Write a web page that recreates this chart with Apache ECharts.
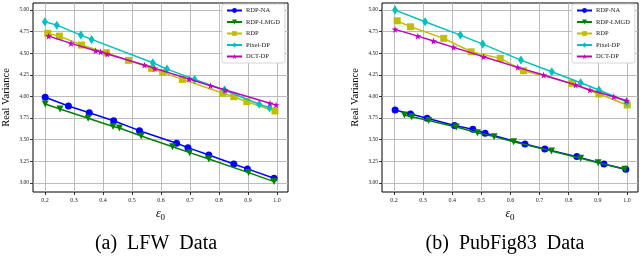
<!DOCTYPE html>
<html><head><meta charset="utf-8">
<script src="https://cdn.jsdelivr.net/npm/echarts@6/dist/echarts.min.js"></script>
<style>html,body{margin:0;padding:0;background:#fff}#c{width:640px;height:258px}</style>
</head><body><div id="c"></div>
<script>
// ---- Data ----
const seriesNames = ['RDP-NA', 'RDP-LMGD', 'RDP', 'Pixel-DP', 'DCT-DP'];
const xTicks = [0.2, 0.3, 0.4, 0.5, 0.6, 0.7, 0.8, 0.9, 1.0];
const yTicks = [3.00, 3.25, 3.50, 3.75, 4.00, 4.25, 4.50, 4.75, 5.00];
const captionParts = [['(a)', 'LFW', 'Data'], ['(b)', 'PubFig83', 'Data']];

// (a) LFW
const lfwNA_x = [0.201, 0.281, 0.353, 0.437, 0.526, 0.654, 0.693, 0.765, 0.851, 0.898, 0.990];
const lfwNA_y = [3.990, 3.889, 3.812, 3.719, 3.604, 3.458, 3.408, 3.323, 3.219, 3.162, 3.054];
const lfwLM_x = [0.201, 0.252, 0.349, 0.435, 0.457, 0.532, 0.640, 0.699, 0.765, 0.902, 0.990];
const lfwLM_y = [3.912, 3.855, 3.747, 3.652, 3.635, 3.543, 3.419, 3.350, 3.277, 3.119, 3.015];
const lfwRDP_x = [0.210, 0.250, 0.326, 0.412, 0.488, 0.568, 0.606, 0.674, 0.814, 0.851, 0.896, 0.993];
const lfwRDP_y = [4.729, 4.697, 4.594, 4.505, 4.417, 4.324, 4.278, 4.197, 4.036, 3.997, 3.939, 3.831];
const lfwPix_x = [0.200, 0.241, 0.324, 0.361, 0.572, 0.621, 0.716, 0.819, 0.939, 0.974];
const lfwPix_y = [4.863, 4.824, 4.709, 4.659, 4.389, 4.316, 4.197, 4.074, 3.909, 3.870];
const lfwDCT_x = [0.213, 0.290, 0.375, 0.392, 0.415, 0.543, 0.579, 0.697, 0.771, 0.822, 0.976, 0.997];
const lfwDCT_y = [4.697, 4.613, 4.528, 4.516, 4.490, 4.363, 4.324, 4.201, 4.124, 4.074, 3.920, 3.901];

// (b) PubFig83
const pubNA_x = [0.204, 0.257, 0.314, 0.408, 0.471, 0.513, 0.650, 0.718, 0.828, 0.921, 0.996];
const pubNA_y = [3.843, 3.797, 3.747, 3.664, 3.620, 3.574, 3.450, 3.393, 3.304, 3.219, 3.158];
const pubLM_x = [0.236, 0.261, 0.319, 0.414, 0.487, 0.544, 0.611, 0.741, 0.841, 0.901, 0.993];
const pubLM_y = [3.785, 3.766, 3.722, 3.647, 3.581, 3.535, 3.477, 3.370, 3.285, 3.234, 3.158];
const pubRDP_x = [0.211, 0.257, 0.371, 0.465, 0.565, 0.645, 0.811, 0.904, 1.001];
const pubRDP_y = [4.874, 4.805, 4.671, 4.516, 4.440, 4.297, 4.151, 4.028, 3.901];
const pubPix_x = [0.204, 0.307, 0.428, 0.505, 0.636, 0.742, 0.841, 0.904, 0.999];
const pubPix_y = [4.998, 4.863, 4.709, 4.605, 4.420, 4.285, 4.158, 4.074, 3.939];
const pubDCT_x = [0.204, 0.282, 0.336, 0.405, 0.508, 0.625, 0.714, 0.824, 0.873, 0.955, 0.999];
const pubDCT_y = [4.775, 4.697, 4.640, 4.567, 4.458, 4.336, 4.247, 4.132, 4.074, 3.997, 3.950];

// ---- Styling ----
const FONT = '"Liberation Serif", "DejaVu Serif", serif';
const colors = ['#0000ff', '#008000', '#bfbf00', '#00bfbf', '#bf00bf'];
const symbols = [
  'circle',
  'path://M0,0 L10,0 L5,9 Z',
  'rect',
  'path://M5,0 L9,7 L5,14 L1,7 Z',
  'path://M50,0 L61,35 L98,35 L68,57 L79,91 L50,70 L21,91 L32,57 L2,35 L39,35 Z'
];
const symSizes = [7, 7, 7, [6, 9], 7];

const zip = (xs, ys) => xs.map((x, i) => [x, ys[i]]);
const plots = [
  [zip(lfwNA_x, lfwNA_y), zip(lfwLM_x, lfwLM_y), zip(lfwRDP_x, lfwRDP_y), zip(lfwPix_x, lfwPix_y), zip(lfwDCT_x, lfwDCT_y)],
  [zip(pubNA_x, pubNA_y), zip(pubLM_x, pubLM_y), zip(pubRDP_x, pubRDP_y), zip(pubPix_x, pubPix_y), zip(pubDCT_x, pubDCT_y)]
];

const gridLefts = [31, 382];
const gridW = [257, 256];

const grids = gridLefts.map((l, i) => ({
  left: l, top: 3, width: gridW[i], height: 189,
  show: true, borderColor: '#000', borderWidth: 1, backgroundColor: 'transparent'
}));

const xAxes = gridLefts.map((l, i) => ({
  type: 'value', gridIndex: i, min: 0.159, max: 1.038,
  name: '{e|ε}{s|0}', nameLocation: 'middle', nameGap: 13,
  nameTextStyle: { rich: { e: { fontFamily: FONT, fontSize: 12, color: '#000', fontStyle: 'italic' }, s: { fontFamily: FONT, fontSize: 9, color: '#000', padding: [8, 0, 0, 0] } } },
  axisLine: { show: false },
  axisTick: { show: true, inside: false, length: 3, customValues: xTicks, lineStyle: { color: '#000', width: 0.8 } },
  axisLabel: { customValues: xTicks, fontFamily: FONT, fontSize: 6, color: '#222', margin: 5, formatter: v => v.toFixed(1) },
  splitLine: { show: true, lineStyle: { color: '#b4b4b4', width: 0.9 } }
}));

const yAxes = gridLefts.map((l, i) => ({
  type: 'value', gridIndex: i, min: 2.895, max: 5.08,
  name: 'Real Variance', nameLocation: 'middle', nameGap: 21, nameRotate: 90,
  nameTextStyle: { fontFamily: FONT, fontSize: 10.5, color: '#000' },
  axisLine: { show: false },
  axisTick: { show: true, inside: false, length: 3, customValues: yTicks, lineStyle: { color: '#000', width: 0.8 } },
  axisLabel: { customValues: yTicks, fontFamily: FONT, fontSize: 5.5, color: '#222', margin: 4, formatter: v => v.toFixed(2) },
  splitLine: { show: true, lineStyle: { color: '#b4b4b4', width: 0.9 } }
}));

const series = [];
plots.forEach((p, gi) => {
  p.forEach((d, si) => {
    series.push({
      name: seriesNames[si], type: 'line', xAxisIndex: gi, yAxisIndex: gi,
      data: d, symbol: symbols[si], symbolSize: symSizes[si], showSymbol: true,
      lineStyle: { color: colors[si], width: 1.5 },
      itemStyle: { color: colors[si] },
      z: 3 + si, animation: false
    });
  });
});

const legends = [222, 572].map(l => ({
  orient: 'vertical', left: l, top: 4,
  data: seriesNames,
  itemWidth: 15, itemHeight: 6, itemGap: 4.5,
  padding: [3, 5, 3, 4],
  backgroundColor: '#fff', borderColor: '#ccc', borderWidth: 0.8, borderRadius: 2,
  textStyle: { fontFamily: FONT, fontSize: 6.5, color: '#222', padding: [0, 0, 0, -1] },
  selectedMode: false
}));

const capText = parts => parts.join('{sp| }');
const capRich = { sp: { width: 10, fontSize: 20, fontFamily: FONT } };
const option = {
  animation: false,
  grid: grids, xAxis: xAxes, yAxis: yAxes, series, legend: legends,
  graphic: [
    { type: 'text', x: 156, y: 234, style: { text: capText(captionParts[0]), font: '20px ' + FONT, fill: '#000', align: 'center', rich: capRich } },
    { type: 'text', x: 505, y: 234, style: { text: capText(captionParts[1]), font: '20px ' + FONT, fill: '#000', align: 'center', rich: capRich } }
  ]
};

const chart = echarts.init(document.getElementById('c'), null, { renderer: 'canvas' });
chart.setOption(option);
</script></body></html>
